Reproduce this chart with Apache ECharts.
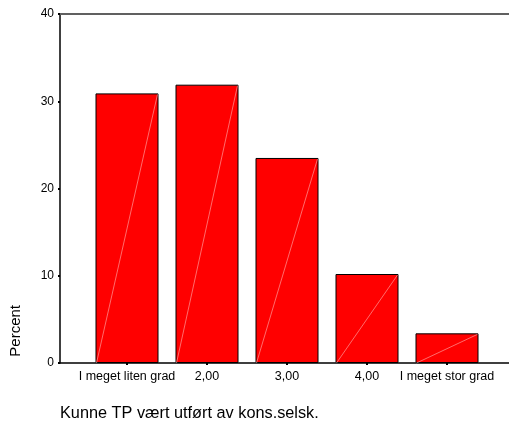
<!DOCTYPE html>
<html>
<head>
<meta charset="utf-8">
<script src="https://cdn.jsdelivr.net/npm/echarts@6/dist/echarts.min.js"></script>
<style>
  html, body { margin: 0; padding: 0; background: #fff; }
  #chart { width: 509px; height: 424px; }
</style>
</head>
<body>
<div id="chart"></div>
<script>
// kategorier og prosent (lest av bildet)
var categories = ['I meget liten grad', '2,00', '3,00', '4,00', 'I meget stor grad'];
var percent = [30.9, 31.9, 23.5, 10.2, 3.4];
var yTicks = [0, 10, 20, 30, 40];

var chart = echarts.init(document.getElementById('chart'), null, { renderer: 'canvas' });

var font = 'Arial, "Liberation Sans", sans-serif';
var BAR_W = 63;

// tynn hvit diagonal i hver stolpe, som i SPSS-eksporten
function renderDiagonal(params, api) {
  var top = api.coord([api.value(0), api.value(1)]);
  var base = api.coord([api.value(0), 0]);
  return {
    type: 'line',
    shape: { x1: base[0] - BAR_W / 2 + 1, y1: base[1], x2: top[0] + BAR_W / 2 - 1, y2: top[1] + 1 },
    style: { stroke: 'rgba(255,200,200,0.9)', lineWidth: 0.6 }
  };
}

var option = {
  backgroundColor: '#ffffff',
  animation: false,
  grid: [
    // ramme + y-akse
    { left: 60, right: 0, top: 14, bottom: 61 },
    // stolpene, 80 px per kategori
    { left: 87, width: 400, top: 14, bottom: 61 }
  ],
  xAxis: [
    {
      gridIndex: 0, type: 'value', min: 0, max: 1,
      axisLine: { show: true, lineStyle: { color: '#000', width: 1.5 } },
      axisTick: { show: false }, axisLabel: { show: false }, splitLine: { show: false }
    },
    {
      gridIndex: 0, type: 'value', min: 0, max: 1, position: 'top',
      axisLine: { show: true, lineStyle: { color: '#606060', width: 2 } },
      axisTick: { show: false }, axisLabel: { show: false }, splitLine: { show: false }
    },
    {
      gridIndex: 1, type: 'category', data: categories,
      axisLine: { show: false },
      axisTick: { show: true, alignWithLabel: true, length: 2, lineStyle: { color: '#000', width: 2 } },
      axisLabel: { color: '#000', fontSize: 12.5, fontFamily: font, margin: 7, interval: 0 },
      splitLine: { show: false }
    }
  ],
  yAxis: [
    {
      gridIndex: 0, type: 'value', min: yTicks[0], max: yTicks[yTicks.length - 1], interval: 10,
      axisLine: { show: true, lineStyle: { color: '#000', width: 1.5 } },
      axisTick: { show: true, length: 2, lineStyle: { color: '#000', width: 2 } },
      axisLabel: { color: '#000', fontSize: 12, fontFamily: font, margin: 6 },
      splitLine: { show: false }
    },
    {
      gridIndex: 1, type: 'value', min: 0, max: 40, show: false
    }
  ],
  graphic: [
    {
      type: 'text', left: 8, top: 305, rotation: Math.PI / 2,
      style: { text: 'Percent', fill: '#000', font: '15px ' + font }
    },
    {
      type: 'text', left: 60, top: 406,
      style: { text: 'Kunne TP vært utført av kons.selsk.', fill: '#000', font: '16.3px ' + font }
    }
  ],
  series: [
    {
      type: 'bar',
      xAxisIndex: 2, yAxisIndex: 1,
      data: percent,
      barWidth: BAR_W,
      itemStyle: { color: '#ff0000', borderColor: '#000', borderWidth: 1 }
    },
    {
      type: 'custom',
      xAxisIndex: 2, yAxisIndex: 1,
      data: percent.map(function (v, i) { return [i, v]; }),
      renderItem: renderDiagonal,
      silent: true,
      z: 3
    }
  ]
};

chart.setOption(option);
</script>
</body>
</html>
